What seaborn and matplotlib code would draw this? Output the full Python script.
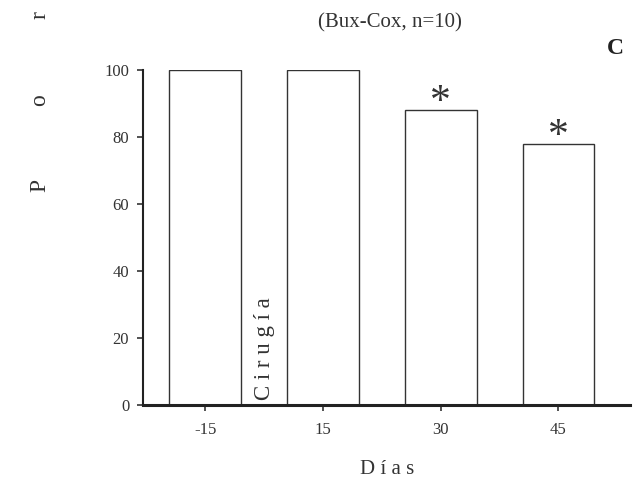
import matplotlib
matplotlib.use("Agg")
import matplotlib.pyplot as plt
import seaborn as sns
import pandas as pd

dias = ["-15", "15", "30", "45"]
valores = [100, 100, 88, 78]
significativo = [False, False, True, True]
yticks = [0, 20, 40, 60, 80, 100]

sns.set_style("ticks")
plt.rcParams["font.family"] = ["Liberation Serif", "DejaVu Serif"]

fig = plt.figure(figsize=(6.36, 4.87), dpi=100)
ax = fig.add_axes([0.225, 0.168, 0.766, 0.688])

df = pd.DataFrame({"dias": dias, "valor": valores})
sns.barplot(data=df, x="dias", y="valor", order=dias, color="white",
            edgecolor="#333333", linewidth=1.0, width=0.61, ax=ax)

ax.set_xlim(-0.527, 3.61)
ax.set_ylim(0, 100)
ax.set_yticks(yticks)
ax.set_yticklabels([str(t) for t in yticks], fontsize=12, color="#333333")
ax.set_xticklabels(dias, fontsize=12, color="#333333")
ax.tick_params(axis="both", direction="out", length=4, width=1.2, colors="#333333")
ax.tick_params(axis="x", labelcolor="#333333", pad=8)
ax.tick_params(axis="y", labelcolor="#333333", pad=6)
ax.set_xlabel("D í a s", fontsize=15, color="#333333", labelpad=16)
ax.set_ylabel("")
for s in ["top", "right"]:
    ax.spines[s].set_visible(False)
ax.spines["left"].set_linewidth(1.5)
ax.spines["bottom"].set_linewidth(2.2)
ax.spines["left"].set_color("#222222")
ax.spines["bottom"].set_color("#222222")

for i, (v, sig) in enumerate(zip(valores, significativo)):
    if sig:
        ax.text(i, v - 3.6, "*", ha="center", va="bottom", fontsize=30,
                color="#333333", clip_on=False)

ax.text(0.5, 1.5, "C i r u g í a", rotation=90, ha="center", va="bottom",
        fontsize=16.5, color="#333333")

fig.text(0.613, 0.953, "(Bux-Cox, n=10)", ha="center", va="center",
         fontsize=15, color="#333333")
fig.text(0.967, 0.9, "C", ha="center", va="center", fontsize=17,
         fontweight="bold", color="#222222")
for letra, ypix in zip(["P", "o", "r"], [185, 100, 15]):
    fig.text(40 / 636, 1 - ypix / 487, letra, rotation=90, ha="center",
             va="center", fontsize=17, color="#333333")

fig.savefig("out.png", dpi=100)
